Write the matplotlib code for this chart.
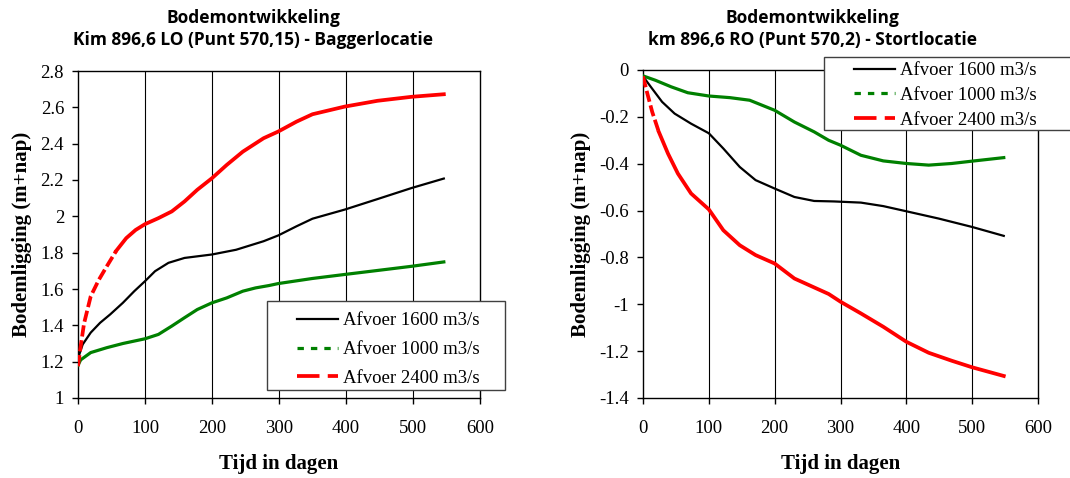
import matplotlib
matplotlib.use('Agg')
import matplotlib.pyplot as plt
from matplotlib.lines import Line2D
from matplotlib.patches import Rectangle

# data (days, bed level in m+NAP)
# left: Kim 896,6 LO
dagen_zl = [0, 2, 7, 19, 33, 48, 67, 84, 100, 115, 135, 159, 200, 236, 277, 299,
            326, 350, 398, 447, 498, 546]
q1600_l = [1.175, 1.24, 1.295, 1.36, 1.414, 1.46, 1.524, 1.588, 1.643, 1.698, 1.744,
           1.771, 1.79, 1.816, 1.863, 1.895, 1.945, 1.987, 2.037, 2.095, 2.156, 2.208]

dagen_gl = [0, 4, 19, 43, 67, 100, 120, 140, 159, 178, 200, 222, 246, 265, 285, 299,
            350, 398, 447, 498, 546]
q1000_l = [1.18, 1.21, 1.25, 1.277, 1.30, 1.326, 1.35, 1.396, 1.442, 1.487, 1.524,
           1.551, 1.588, 1.606, 1.619, 1.630, 1.658, 1.680, 1.702, 1.725, 1.749]

dagen_rl = [0, 4, 9, 19, 31, 43, 57, 72, 86, 100, 120, 140, 159, 178, 200, 222, 246,
            277, 299, 326, 350, 398, 447, 498, 546]
q2400_l = [1.175, 1.285, 1.41, 1.56, 1.65, 1.725, 1.81, 1.88, 1.925, 1.957, 1.99, 2.027,
           2.082, 2.146, 2.21, 2.283, 2.356, 2.43, 2.467, 2.521, 2.562, 2.604, 2.636,
           2.658, 2.672]

# right: km 896,6 RO
dagen_zr = [0, 14, 29, 48, 73, 100, 122, 147, 171, 200, 230, 260, 290, 331, 365, 400,
            449, 500, 548]
q1600_r = [-0.027, -0.08, -0.136, -0.186, -0.229, -0.27, -0.335, -0.414, -0.47, -0.506,
           -0.542, -0.559, -0.561, -0.566, -0.581, -0.603, -0.634, -0.67, -0.708]

dagen_gr = [0, 19, 43, 68, 100, 132, 162, 200, 230, 260, 282, 300, 331, 365, 400, 434,
            469, 500, 548]
q1000_r = [-0.025, -0.044, -0.072, -0.097, -0.111, -0.118, -0.129, -0.172, -0.222,
           -0.264, -0.30, -0.321, -0.364, -0.388, -0.399, -0.406, -0.399, -0.389, -0.374]

dagen_rr = [0, 6, 14, 24, 38, 53, 73, 100, 122, 147, 171, 200, 230, 282, 300, 331, 365,
            400, 434, 469, 500, 548]
q2400_r = [-0.027, -0.094, -0.179, -0.264, -0.357, -0.442, -0.527, -0.595, -0.684,
           -0.748, -0.79, -0.826, -0.89, -0.956, -0.989, -1.039, -1.096, -1.16, -1.207,
           -1.241, -1.269, -1.306]

labels = ['Afvoer 1600 m3/s', 'Afvoer 1000 m3/s', 'Afvoer 2400 m3/s']
titels = ['Bodemontwikkeling\nKim 896,6 LO (Punt 570,15) - Baggerlocatie',
          'Bodemontwikkeling\nkm 896,6 RO (Punt 570,2) - Stortlocatie']

plt.rcParams['font.family'] = 'Liberation Serif'

W, H = 1070, 478
fig = plt.figure(figsize=(W / 100, H / 100), dpi=100)
ax1 = fig.add_axes([78 / W, 1 - 398 / H, 402 / W, 327 / H])
ax2 = fig.add_axes([643 / W, 1 - 398 / H, 395 / W, 328 / H])

ZW, GR, RO = 'black', '#008000', '#ff0000'
LW = {'z': 1.6, 'g': 2.3, 'r': 2.7}

handles = [Line2D([], [], color=ZW, lw=LW['z']),
           Line2D([], [], color=GR, lw=LW['g'], linestyle=(0, (2.0, 2.2))),
           Line2D([], [], color=RO, lw=LW['r'], linestyle=(0, (6.0, 2.2)))]


def style(ax, ylim, yticks):
    ax.set_xlim(0, 600)
    ax.set_ylim(*ylim)
    ax.set_xticks(range(0, 601, 100))
    ax.set_yticks(yticks)
    ax.set_yticklabels([f'{t:g}' for t in yticks])
    for x in range(100, 600, 100):
        ax.axvline(x, color='black', lw=0.8, zorder=1)
    for s in ax.spines.values():
        s.set_linewidth(1.0)
    ax.tick_params(labelsize=13.5, length=4, width=1, direction='out')
    ax.tick_params(axis='x', pad=12)
    ax.tick_params(axis='y', pad=6)
    ax.set_xlabel('Tijd in dagen', fontsize=15, fontweight='bold', labelpad=12)
    ax.set_ylabel('Bodemligging (m+nap)', fontsize=15, fontweight='bold', labelpad=6)


def legenda(box, hx, top, spacing):
    # frame drawn separately so the handles can sit well inside it
    x0, y0, x1, y1 = box
    fig.add_artist(Rectangle((x0 / W, 1 - y1 / H), (x1 - x0) / W, (y1 - y0) / H,
                             transform=fig.transFigure, facecolor='white',
                             edgecolor='#404040', lw=1.0, zorder=5))
    leg = fig.legend(handles, labels, loc='upper left', bbox_to_anchor=(hx / W, 1 - top / H),
                     bbox_transform=fig.transFigure, fontsize=13.5, frameon=False,
                     handlelength=2.2, handletextpad=0.25, borderpad=0, borderaxespad=0,
                     labelspacing=spacing)
    leg.set_zorder(6)


# left chart
n = dagen_rl.index(57)
ax1.plot(dagen_zl, q1600_l, color=ZW, lw=LW['z'], zorder=3)
ax1.plot(dagen_gl, q1000_l, color=GR, lw=LW['g'], zorder=3)
ax1.plot(dagen_rl[:n + 1], q2400_l[:n + 1], color=RO, lw=LW['r'], zorder=3,
         linestyle=(0, (3, 1)))
ax1.plot(dagen_rl[n:], q2400_l[n:], color=RO, lw=LW['r'], zorder=3)
style(ax1, (1, 2.8), [1, 1.2, 1.4, 1.6, 1.8, 2, 2.2, 2.4, 2.6, 2.8])
legenda((267, 301, 505, 390), 297, 312, 0.63)

# right chart
n = dagen_rr.index(24)
ax2.plot(dagen_zr, q1600_r, color=ZW, lw=LW['z'], zorder=3)
ax2.plot(dagen_gr, q1000_r, color=GR, lw=LW['g'], zorder=3)
ax2.plot(dagen_rr[:n + 1], q2400_r[:n + 1], color=RO, lw=LW['r'], zorder=3,
         linestyle=(0, (3, 1)))
ax2.plot(dagen_rr[n:], q2400_r[n:], color=RO, lw=LW['r'], zorder=3)
style(ax2, (-1.4, 0), [-1.4, -1.2, -1, -0.8, -0.6, -0.4, -0.2, 0])
legenda((824, 57, 1080, 130), 854, 62, 0.41)

# titles, centred a bit left of the plot areas
for xc, t in zip([253, 812], titels):
    fig.text(xc / W, 1 - 29 / H, t, ha='center', va='center', fontsize=12.5,
             fontweight='bold', family='Open Sans', linespacing=1.35)

fig.savefig('out.png', dpi=100)
